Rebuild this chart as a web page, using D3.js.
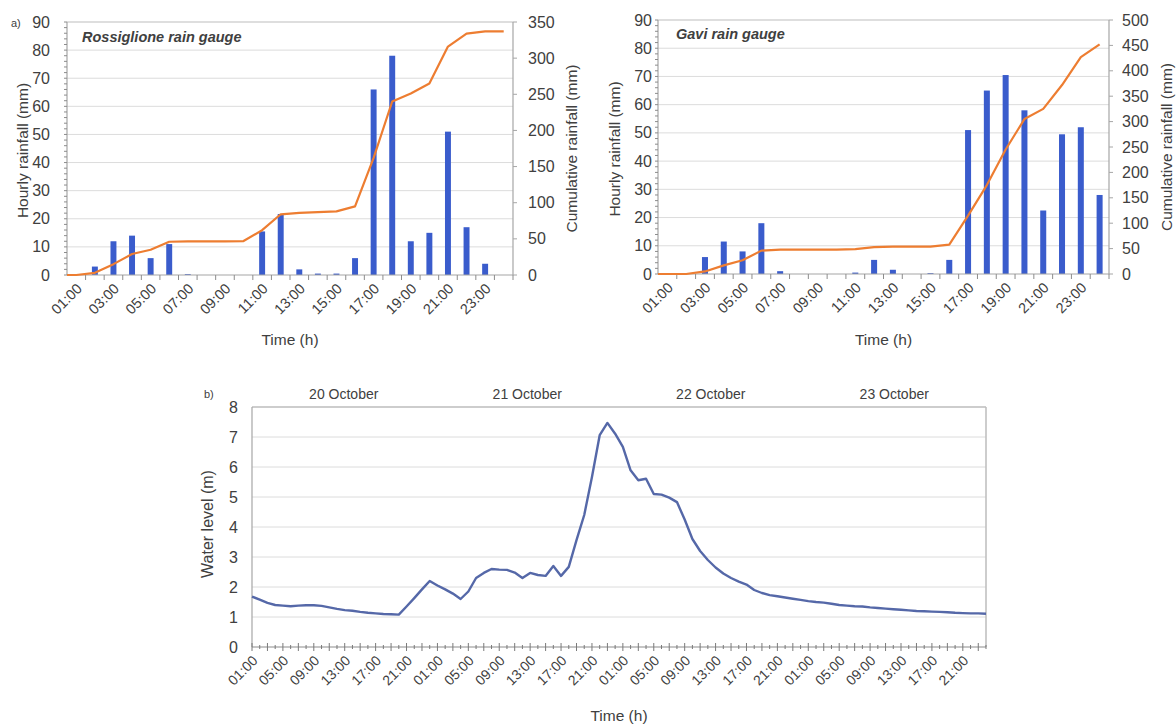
<!DOCTYPE html>
<html><head><meta charset="utf-8">
<script src="https://cdn.jsdelivr.net/npm/d3@7"></script>
<style>
body{margin:0;background:#fff;}
svg text{font-family:"Liberation Sans",Arial,sans-serif;fill:#404040;}
</style></head><body>
<svg id="c" width="1176" height="725"></svg>
<script>
// ---------- data ----------
const hours = ["01:00","02:00","03:00","04:00","05:00","06:00","07:00","08:00","09:00","10:00","11:00","12:00",
               "13:00","14:00","15:00","16:00","17:00","18:00","19:00","20:00","21:00","22:00","23:00","24:00"];
const rossHourly = [0,3,12,14,6,11,0.3,0,0,0,15.5,21.7,2,0.5,0.5,6,66,78,12,15,51,17,4,0];
const rossCumulative = [0,3,15,29,35,46,46.5,46.5,46.5,47,62,84,86,87,88,95,162,240,251,265,316,334,337,337];
const gaviHourly = [0,0,6,11.5,8,18,1,0,0,0,0.5,5,1.5,0,0.3,5,51,65,70.5,58,22.5,49.5,52,28];
const gaviCumulative = [0,0,5,17,27,46,48,48,48,48,49,53,54,54,54,58,115,175,245,305,325,372,427,452];
const leftTicks = [0,10,20,30,40,50,60,70,80,90];
const rossRightTicks = [0,50,100,150,200,250,300,350];
const gaviRightTicks = [0,50,100,150,200,250,300,350,400,450,500];

const dayLabels = ["20 October","21 October","22 October","23 October"];
const waterTicks = [0,1,2,3,4,5,6,7,8];
const waterLevel = [
 1.68,1.58,1.47,1.40,1.38,1.36,1.38,1.39,1.39,1.37,1.32,1.27,1.23,1.21,1.17,1.14,1.12,1.10,1.09,1.08,1.35,1.63,1.92,2.20,
 2.05,1.92,1.78,1.60,1.85,2.30,2.47,2.60,2.58,2.57,2.48,2.30,2.47,2.40,2.37,2.70,2.37,2.67,3.56,4.40,5.67,7.06,7.47,7.11,
 6.67,5.89,5.56,5.61,5.10,5.08,4.98,4.83,4.25,3.60,3.20,2.90,2.65,2.45,2.30,2.18,2.08,1.90,1.80,1.73,1.69,1.65,1.61,1.57,
 1.53,1.50,1.48,1.44,1.40,1.38,1.36,1.35,1.32,1.30,1.28,1.26,1.24,1.22,1.20,1.19,1.18,1.17,1.16,1.14,1.13,1.12,1.12,1.11];
const waterHours = dayLabels.flatMap(d => hours.map(h => d + " " + h));

// ---------- styles ----------
const BAR = "#3a5ccc", ORANGE = "#ED7D31", WATER = "#5568a8";
const GRID = "#dcdcdc", AXIS = "#a6a6a6", BORDER = "#bdbdbd";

const svg = d3.select("#c");

function rainChart(cfg){
  const g = svg.append("g");
  const x = d3.scaleBand().domain(hours).range([cfg.x0, cfg.x1]).paddingInner(0.68).paddingOuter(0.34);
  const yl = d3.scaleLinear().domain([0,90]).range([cfg.y1, cfg.y0]);
  const yr = d3.scaleLinear().domain([0,cfg.rightMax]).range([cfg.y1, cfg.y0]);
  const cx = h => x(h) + x.bandwidth()/2;
  const step = x.step();

  // gridlines
  g.selectAll(".grid").data(leftTicks.filter(t=>t>0 && t<90)).join("line")
    .attr("x1",cfg.x0).attr("x2",cfg.x1).attr("y1",d=>yl(d)).attr("y2",d=>yl(d))
    .attr("stroke",GRID).attr("stroke-width",1);
  // top border
  g.append("line").attr("x1",cfg.x0).attr("x2",cfg.x1).attr("y1",yl(90)).attr("y2",yl(90))
    .attr("stroke",BORDER).attr("stroke-width",1.2);

  // bars
  g.selectAll(".bar").data(hours.map((h,i)=>({h,v:cfg.hourly[i]}))).join("rect")
    .attr("x",d=>x(d.h)).attr("width",x.bandwidth())
    .attr("y",d=>yl(d.v)).attr("height",d=>yl(0)-yl(d.v))
    .attr("fill",BAR);

  // axes lines
  g.append("line").attr("x1",cfg.x0).attr("x2",cfg.x0).attr("y1",cfg.y0).attr("y2",cfg.y1).attr("stroke",AXIS).attr("stroke-width",1.2);
  g.append("line").attr("x1",cfg.x1).attr("x2",cfg.x1).attr("y1",cfg.y0).attr("y2",cfg.y1).attr("stroke",AXIS).attr("stroke-width",1.2);
  g.append("line").attr("x1",cfg.x0).attr("x2",cfg.x1).attr("y1",cfg.y1).attr("y2",cfg.y1).attr("stroke",AXIS).attr("stroke-width",1.2);

  // left minor ticks
  g.selectAll(".lminor").data(d3.range(0,91,2)).join("line")
    .attr("x1",cfg.x0-3).attr("x2",cfg.x0).attr("y1",d=>yl(d)).attr("y2",d=>yl(d))
    .attr("stroke","#8c8c8c").attr("stroke-width",1);
  // right ticks
  g.selectAll(".rtick").data(cfg.rightTicks).join("line")
    .attr("x1",cfg.x1).attr("x2",cfg.x1+4).attr("y1",d=>yr(d)).attr("y2",d=>yr(d))
    .attr("stroke",AXIS).attr("stroke-width",1);
  // x ticks between categories
  g.selectAll(".xtick").data(hours).join("line")
    .attr("x1",d=>x(d)-step*0.34+step).attr("x2",d=>x(d)-step*0.34+step)
    .attr("y1",cfg.y1).attr("y2",cfg.y1+5)
    .attr("stroke","#8c8c8c").attr("stroke-width",1);

  // cumulative line (starts at plot edge)
  const pts = [[x.range()[0], yr(0)]].concat(hours.map((h,i)=>[cx(h), yr(cfg.cum[i])]));
  g.append("path").attr("d",d3.line()(pts)).attr("fill","none")
    .attr("stroke",ORANGE).attr("stroke-width",2.2).attr("stroke-linejoin","round");

  // left tick labels
  g.selectAll(".ll").data(leftTicks).join("text")
    .attr("x",cfg.leftLabelX).attr("y",d=>yl(d)).attr("dy","0.35em")
    .attr("text-anchor","end").style("font-size","16px").text(d=>d);
  // right tick labels
  g.selectAll(".rl").data(cfg.rightTicks).join("text")
    .attr("x",cfg.rightLabelX).attr("y",d=>yr(d)).attr("dy","0.35em")
    .attr("text-anchor","start").style("font-size","16px").text(d=>d);
  // x labels
  g.selectAll(".xl").data(hours.filter((h,i)=>i%2===0)).join("text")
    .attr("transform",d=>`translate(${cx(d)+3},${cfg.y1+11}) rotate(-45)`)
    .attr("text-anchor","end").attr("dy","0.35em").style("font-size","14.5px").text(d=>d);

  // titles
  g.append("text").attr("transform",`translate(${cfg.leftTitleX},${(cfg.y0+cfg.y1)/2+2}) rotate(-90)`)
    .attr("text-anchor","middle").attr("dy","0.35em").style("font-size","15.5px").text("Hourly rainfall (mm)");
  g.append("text").attr("transform",`translate(${cfg.rightTitleX},${(cfg.y0+cfg.y1)/2}) rotate(-90)`)
    .attr("text-anchor","middle").attr("dy","0.35em").style("font-size","15.5px").text("Cumulative rainfall (mm)");
  g.append("text").attr("x",(cfg.x0+cfg.x1)/2).attr("y",345).attr("text-anchor","middle")
    .style("font-size","15.5px").text("Time (h)");
  g.append("text").attr("x",cfg.titleX).attr("y",cfg.titleY)
    .style("font-size","14.5px").style("font-weight","bold").style("font-style","italic")
    .attr("fill","#262626").text(cfg.title);
}

rainChart({x0:67,x1:513,y0:22,y1:275,hourly:rossHourly,cum:rossCumulative,rightMax:350,rightTicks:rossRightTicks,
  title:"Rossiglione rain gauge",titleX:82,titleY:42,leftLabelX:50,rightLabelX:528,leftTitleX:23,rightTitleX:572});
rainChart({x0:658,x1:1109,y0:20,y1:274,hourly:gaviHourly,cum:gaviCumulative,rightMax:500,rightTicks:gaviRightTicks,
  title:"Gavi rain gauge",titleX:676,titleY:39,leftLabelX:652,rightLabelX:1122,leftTitleX:615,rightTitleX:1167});

svg.append("text").attr("x",11).attr("y",27).style("font-size",11).text("a)");

// ---------- water level chart ----------
(function(){
  const x0=252,x1=986,y0=407,y1=647;
  const g = svg.append("g");
  const x = d3.scalePoint().domain(waterHours).range([x0,x1]);
  const y = d3.scaleLinear().domain([0,8]).range([y1,y0]);
  const days = d3.scaleBand().domain(dayLabels).range([x0,x1]);

  g.selectAll(".grid").data(waterTicks.filter(t=>t>0&&t<8)).join("line")
    .attr("x1",x0).attr("x2",x1).attr("y1",d=>y(d)).attr("y2",d=>y(d))
    .attr("stroke",GRID).attr("stroke-width",1);
  g.append("line").attr("x1",x0).attr("x2",x1).attr("y1",y(8)).attr("y2",y(8)).attr("stroke",BORDER).attr("stroke-width",1.5);
  g.append("line").attr("x1",x1).attr("x2",x1).attr("y1",y0).attr("y2",y1).attr("stroke",BORDER).attr("stroke-width",1.5);
  g.append("line").attr("x1",x0).attr("x2",x0).attr("y1",y0).attr("y2",y1).attr("stroke",AXIS).attr("stroke-width",1.2);
  g.append("line").attr("x1",x0).attr("x2",x1).attr("y1",y1).attr("y2",y1).attr("stroke","#8c8c8c").attr("stroke-width",1.2);

  g.selectAll(".xt").data(waterHours).join("line")
    .attr("x1",d=>x(d)).attr("x2",d=>x(d))
    .attr("y1",(d,i)=>y1-(i%2===0?4:2)).attr("y2",(d,i)=>y1+(i%2===0?4:2))
    .attr("stroke","#7a7a7a").attr("stroke-width",1);

  g.append("path").attr("d",d3.line().x((d,i)=>x(waterHours[i])).y(d=>y(d))(waterLevel))
    .attr("fill","none").attr("stroke",WATER).attr("stroke-width",2.4).attr("stroke-linejoin","round");

  g.selectAll(".yl").data(waterTicks).join("text")
    .attr("x",238).attr("y",d=>y(d)).attr("dy","0.35em").attr("text-anchor","end")
    .style("font-size","16px").text(d=>d);
  g.selectAll(".xl").data(waterHours.filter((d,i)=>i%4===0)).join("text")
    .attr("transform",d=>`translate(${x(d)+3},${y1+11}) rotate(-45)`)
    .attr("text-anchor","end").attr("dy","0.35em").style("font-size","14px").text(d=>d.slice(-5));
  g.selectAll(".dl").data(dayLabels).join("text")
    .attr("x",d=>days(d)+days.bandwidth()/2).attr("y",399).attr("text-anchor","middle")
    .style("font-size","14px").text(d=>d);
  g.append("text").attr("transform",`translate(207,524) rotate(-90)`).attr("text-anchor","middle").attr("dy","0.35em")
    .style("font-size","16px").text("Water level (m)");
  g.append("text").attr("x",(x0+x1)/2).attr("y",721).attr("text-anchor","middle").style("font-size","15.5px").text("Time (h)");
  g.append("text").attr("x",204).attr("y",398).style("font-size",11).text("b)");
})();
</script>
</body></html>
